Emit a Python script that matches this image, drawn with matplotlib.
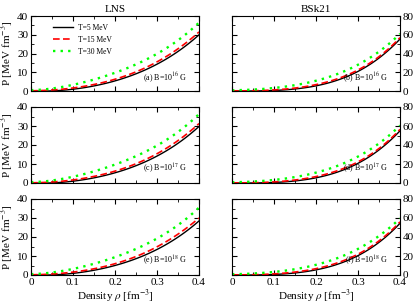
import numpy as np
import matplotlib
matplotlib.use("Agg")
import matplotlib.pyplot as plt
import matplotlib.transforms as mtransforms
from matplotlib.ticker import MultipleLocator

plt.rcParams['font.family'] = ['Liberation Serif', 'DejaVu Serif']
plt.rcParams['mathtext.fontset'] = 'stix'

rho = [0, 0.05, 0.1, 0.15, 0.2, 0.25, 0.3, 0.35, 0.4]
temps = ["T=5 MeV", "T=15 MeV", "T=30 MeV"]
fields = ["16", "17", "18"]

# LNS pressures [MeV fm^-3] per field, per temperature
lns = {
    "16": [[0, 0.2, 0.9, 2.6, 5.4, 9.3, 14.3, 21.0, 30.0],
           [0.1, 0.6, 1.6, 3.4, 6.3, 10.3, 15.5, 22.5, 31.5],
           [0.4, 1.5, 3.2, 6.0, 9.8, 14.3, 19.8, 27.0, 36.5]],
    "17": [[0, 0.2, 0.9, 2.6, 5.4, 9.2, 14.2, 20.8, 29.8],
           [0.1, 0.6, 1.6, 3.4, 6.3, 10.2, 15.4, 22.3, 31.3],
           [0.4, 1.5, 3.2, 6.0, 9.8, 14.2, 19.7, 26.8, 36.3]],
    "18": [[0, 0.2, 0.8, 2.4, 5.0, 8.7, 13.5, 19.8, 28.5],
           [0.1, 0.6, 1.5, 3.2, 6.0, 9.8, 14.8, 21.5, 30.0],
           [0.4, 1.5, 3.1, 5.8, 9.5, 13.8, 19.2, 26.2, 35.5]],
}
# BSk21 pressures [MeV fm^-3]
bsk = {
    "16": [[0, 0.1, 0.6, 2.0, 5.5, 11.5, 21.0, 35.0, 55.5],
           [0.2, 0.4, 1.2, 3.0, 6.8, 13.0, 22.5, 36.5, 57.0],
           [0.8, 1.6, 3.2, 6.2, 11.0, 18.0, 28.0, 42.0, 61.0]],
    "17": [[0, 0.1, 0.6, 2.0, 5.5, 11.4, 20.8, 34.7, 55.0],
           [0.2, 0.4, 1.2, 3.0, 6.8, 12.9, 22.3, 36.2, 56.5],
           [0.8, 1.6, 3.2, 6.2, 11.0, 17.9, 27.8, 41.7, 60.5]],
    "18": [[0, 0.1, 0.6, 2.0, 5.4, 11.2, 20.5, 34.2, 54.5],
           [0.2, 0.4, 1.2, 3.0, 6.7, 12.7, 22.0, 35.8, 56.0],
           [0.8, 1.6, 3.2, 6.1, 10.8, 17.6, 27.4, 41.2, 59.5]],
}
labels_left = ["(a)", "(c)", "(e)"]
labels_right = ["(b)", "(d)", "(f)"]

colors = ["black", "red", "#00ff00"]
styles = ["-", (0, (4, 2)), (0, (1, 2.2))]
widths = [1.0, 1.2, 1.7]

fig = plt.figure(figsize=(4.15, 3.04), dpi=100)
lefts = [31/415, 232/415]
w = 168/415
rows = [(16, 91), (107, 183), (199, 275)]

rf = np.linspace(0, 0.4, 81)

for col, (data, labs, ymax, ymaj, ymin) in enumerate(
        [(lns, labels_left, 40, 10, 5), (bsk, labels_right, 80, 20, 10)]):
    for r, B in enumerate(fields):
        top, bot = rows[r]
        ax = fig.add_axes([lefts[col], 1 - bot/304, w, (bot - top)/304])
        for i in range(3):
            c = np.polyfit(rho, data[B][i], 4)
            yf = np.polyval(c, rf)
            ax.plot(rf, yf, color=colors[i], linestyle=styles[i],
                    lw=widths[i], label=temps[i])
        ax.set_xlim(0, 0.4)
        ax.set_ylim(0, ymax)
        ax.xaxis.set_major_locator(MultipleLocator(0.1))
        ax.xaxis.set_minor_locator(MultipleLocator(0.05))
        ax.yaxis.set_major_locator(MultipleLocator(ymaj))
        ax.yaxis.set_minor_locator(MultipleLocator(ymin))
        ax.tick_params(which='both', direction='in', top=True, right=True,
                       labelsize=8, pad=2)
        ax.tick_params(which='major', length=3.5)
        ax.tick_params(which='minor', length=2)
        ax.set_xticks([0, 0.1, 0.2, 0.3, 0.4])
        ax.set_xticklabels(["0", "0.1", "0.2", "0.3", "0.4"])
        if r < 2:
            ax.tick_params(labelbottom=False)
        else:
            ax.set_xlabel(r"Density $\rho$ [fm$^{-3}$]", fontsize=8, labelpad=1)
        if col == 0:
            ax.set_ylabel(r"P [MeV fm$^{-3}$]", fontsize=8, labelpad=1)
        else:
            ax.tick_params(labelleft=False, labelright=True)
            if r == 2:
                fig.canvas.draw()
                lab0 = ax.yaxis.get_majorticklabels()[0]
                for t in ax.yaxis.get_ticklabels(which='major'):
                    pass
                offset = mtransforms.ScaledTranslation(0, 3/72, fig.dpi_scale_trans)
                ax.yaxis.get_major_ticks()[0].label2.set_transform(
                    ax.yaxis.get_major_ticks()[0].label2.get_transform() + offset)
        ax.text(0.372, 0.1 * ymax, labs[r] + r" B=10$^{%s}$ G" % B,
                fontsize=5.8, ha='right', va='bottom')
        if col == 0 and r == 0:
            ax.legend(loc='upper left', frameon=False, fontsize=5.5,
                      handlelength=2.6, handletextpad=0.7, borderaxespad=0.3,
                      labelspacing=0.55, bbox_to_anchor=(0.1, 0.97))
        if r == 0:
            ax.set_title("LNS" if col == 0 else "BSk21", fontsize=8, pad=3)

fig.savefig("out.png", dpi=100)
